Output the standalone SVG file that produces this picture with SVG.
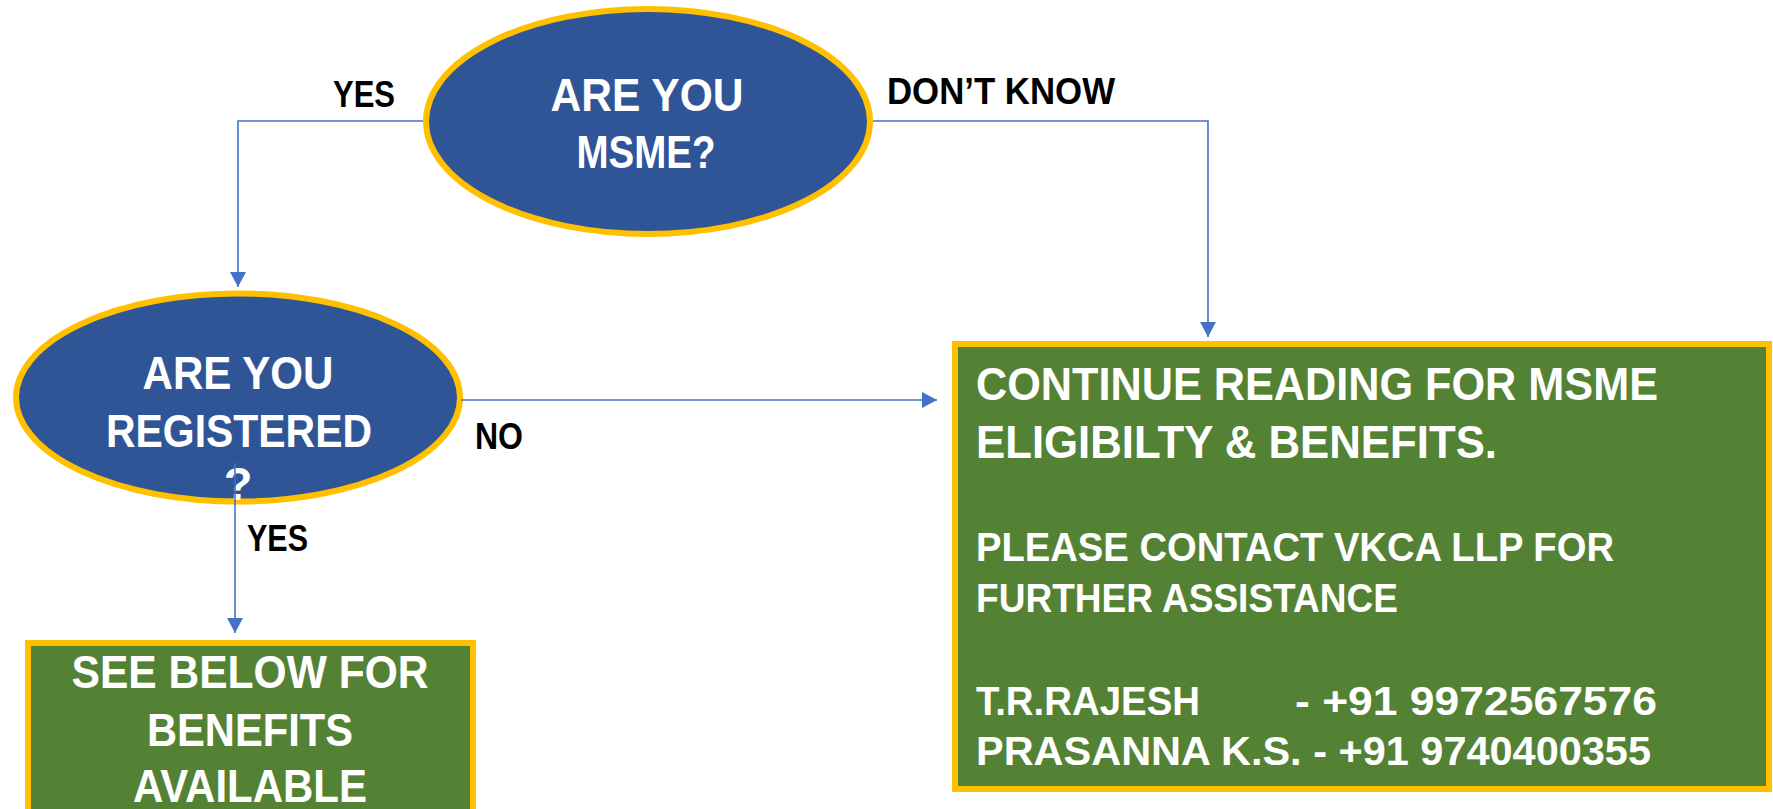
<svg xmlns="http://www.w3.org/2000/svg" width="1773" height="809" viewBox="0 0 1773 809">
<style>
.ell{fill:#2F5597;stroke:#FFC000;stroke-width:6}
.box{fill:#548235;stroke:#FFC000;stroke-width:6}
.wt{fill:#FFFFFF;font-family:"Liberation Sans",Arial,sans-serif;font-weight:bold}
.lbl{fill:#000000;font-family:"Liberation Sans",Arial,sans-serif;font-weight:bold;font-size:37px}
.con{fill:none;stroke:#4472C4;stroke-width:1.6}
</style>
<defs>
<marker id="arr" viewBox="0 0 15 16" refX="15" refY="8" markerWidth="15" markerHeight="16" markerUnits="userSpaceOnUse" orient="auto">
<path d="M0,0 L15,8 L0,16 z" fill="#4472C4"/>
</marker>
</defs>
<g id="node-msme">
<ellipse class="ell" cx="648" cy="121.5" rx="222" ry="112.5"/>
<text class="wt" font-size="47" x="647" y="111" text-anchor="middle" textLength="193" lengthAdjust="spacingAndGlyphs">ARE YOU</text>
<text class="wt" font-size="47" x="646" y="168" text-anchor="middle" textLength="139" lengthAdjust="spacingAndGlyphs">MSME?</text>
</g>
<g id="node-registered">
<ellipse class="ell" cx="238" cy="397.5" rx="222" ry="104"/>
<text class="wt" font-size="47" x="238" y="389" text-anchor="middle" textLength="191" lengthAdjust="spacingAndGlyphs">ARE YOU</text>
<text class="wt" font-size="47" x="239" y="447" text-anchor="middle" textLength="266" lengthAdjust="spacingAndGlyphs">REGISTERED</text>
<text class="wt" font-size="47" x="238" y="500" text-anchor="middle">?</text>
</g>
<g id="node-benefits">
<rect class="box" x="28" y="643" width="445" height="185"/>
<text class="wt" font-size="47" x="250" y="688" text-anchor="middle" textLength="357" lengthAdjust="spacingAndGlyphs">SEE BELOW FOR</text>
<text class="wt" font-size="47" x="250" y="746" text-anchor="middle" textLength="206" lengthAdjust="spacingAndGlyphs">BENEFITS</text>
<text class="wt" font-size="47" x="250" y="802" text-anchor="middle" textLength="234" lengthAdjust="spacingAndGlyphs">AVAILABLE</text>
</g>
<g id="node-continue">
<rect class="box" x="955" y="344" width="814" height="445"/>
<text class="wt" font-size="47" x="976" y="400" textLength="682" lengthAdjust="spacingAndGlyphs">CONTINUE READING FOR MSME</text>
<text class="wt" font-size="47" x="976" y="458" textLength="521" lengthAdjust="spacingAndGlyphs">ELIGIBILTY &amp; BENEFITS.</text>
<text class="wt" font-size="41" x="976" y="561" textLength="638" lengthAdjust="spacingAndGlyphs">PLEASE CONTACT VKCA LLP FOR</text>
<text class="wt" font-size="41" x="976" y="612" textLength="422" lengthAdjust="spacingAndGlyphs">FURTHER ASSISTANCE</text>
<text class="wt" font-size="41" y="715"><tspan x="976" textLength="224" lengthAdjust="spacingAndGlyphs">T.R.RAJESH</tspan><tspan x="1295" textLength="362" lengthAdjust="spacingAndGlyphs">- +91 9972567576</tspan></text>
<text class="wt" font-size="41" x="976" y="765" textLength="675" lengthAdjust="spacingAndGlyphs">PRASANNA K.S. - +91 9740400355</text>
</g>
<g id="connectors">
<path class="con" d="M423,121 H238 V287" marker-end="url(#arr)"/>
<path class="con" d="M873,121 H1208 V337" marker-end="url(#arr)"/>
<path class="con" d="M461,400 H937" marker-end="url(#arr)"/>
<path class="con" d="M235,463 V633" marker-end="url(#arr)"/>
</g>
<g id="labels">
<text class="lbl" x="333" y="107" textLength="62" lengthAdjust="spacingAndGlyphs">YES</text>
<text class="lbl" x="887" y="104" textLength="228" lengthAdjust="spacingAndGlyphs">DON’T KNOW</text>
<text class="lbl" x="475" y="449" textLength="48" lengthAdjust="spacingAndGlyphs">NO</text>
<text class="lbl" x="247" y="551" textLength="61" lengthAdjust="spacingAndGlyphs">YES</text>
</g>
</svg>
